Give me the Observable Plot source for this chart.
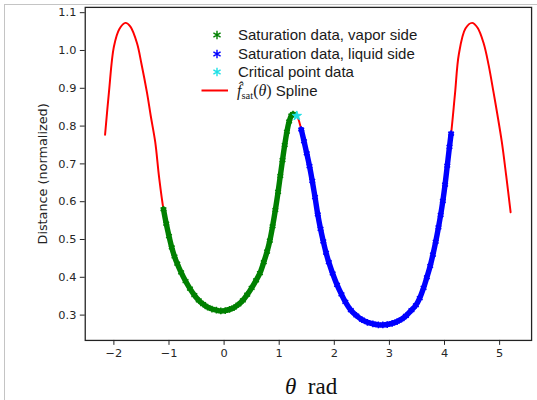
<!DOCTYPE html>
<html><head><meta charset="utf-8">
<script src="https://cdn.jsdelivr.net/npm/d3@7"></script>
<script src="https://cdn.jsdelivr.net/npm/@observablehq/plot@0.6"></script>
<style>
html,body{margin:0;padding:0;background:#fff;}
body{width:537px;height:400px;overflow:hidden;position:relative;}
#border{position:absolute;left:4px;top:4px;width:600px;height:500px;border-left:1px solid #c4c4c4;border-top:1px solid #c4c4c4;}
#chart{position:absolute;left:0;top:0;}
#legend{position:absolute;left:0;top:0;font-family:'Liberation Sans',Arial,sans-serif;font-size:15px;color:#1a1a1a;}
#legend .row{position:absolute;white-space:nowrap;line-height:16px;}
#legend svg{position:absolute;overflow:visible;}
.math{font-family:'Liberation Serif','DejaVu Serif',serif;}
#xlabel{position:absolute;font-family:'Liberation Serif','DejaVu Serif',serif;font-size:23px;color:#111;white-space:nowrap;line-height:24px;}
</style></head><body>
<div id="border"></div>
<div id="chart"></div>
<div id="legend"></div>
<div id="xlabel"></div>
<script>
// ---- data ----
const vaporTheta = [-1.10,-1.05,-1.00,-0.95,-0.90,-0.85,-0.78,-0.70,-0.62,-0.54,-0.46,-0.38,-0.30,-0.22,-0.14,-0.06,0.02,0.10,0.18,0.26,0.34,0.42,0.50,0.58,0.65,0.72,0.78,0.83,0.88,0.93,0.98,1.02,1.06,1.10,1.14,1.18,1.22,1.25];
const vaporDist  = [0.580,0.542,0.509,0.479,0.455,0.436,0.413,0.390,0.370,0.353,0.339,0.329,0.321,0.316,0.313,0.311,0.312,0.315,0.320,0.328,0.339,0.354,0.372,0.392,0.411,0.440,0.468,0.497,0.535,0.578,0.626,0.668,0.710,0.750,0.785,0.812,0.828,0.832];

const liquidTheta = [1.40,1.45,1.50,1.55,1.60,1.65,1.70,1.75,1.80,1.85,1.90,1.97,2.05,2.13,2.20,2.30,2.40,2.50,2.60,2.70,2.80,2.88,2.96,3.05,3.14,3.22,3.30,3.40,3.48,3.55,3.62,3.68,3.74,3.79,3.84,3.89,3.93,3.97,4.01,4.05,4.09,4.12];
const liquidDist  = [0.791,0.760,0.728,0.694,0.655,0.612,0.566,0.528,0.495,0.465,0.440,0.410,0.380,0.355,0.335,0.313,0.299,0.288,0.281,0.277,0.274,0.274,0.275,0.278,0.283,0.289,0.298,0.313,0.326,0.345,0.372,0.400,0.430,0.460,0.494,0.532,0.565,0.602,0.645,0.695,0.745,0.780];

const criticalTheta = [1.32];
const criticalDist  = [0.827];

const splineTheta = [-2.16,-2.09,-2.00,-1.90,-1.79,-1.70,-1.58,-1.50,-1.40,-1.33,-1.25,-1.18,-1.10,-1.00,-0.85,-0.70,-0.48,-0.20,-0.06,0.10,0.36,0.55,0.75,0.90,1.04,1.16,1.25,1.32,1.40,1.55,1.70,1.90,2.20,2.50,2.86,3.22,3.515,3.754,3.934,4.05,4.12,4.19,4.26,4.38,4.50,4.60,4.71,4.80,4.89,4.96,5.04,5.12,5.20];
const splineDist  = [0.777,0.889,1.010,1.057,1.073,1.063,1.019,0.965,0.889,0.826,0.758,0.665,0.580,0.509,0.436,0.390,0.340,0.316,0.311,0.315,0.341,0.385,0.455,0.552,0.690,0.795,0.832,0.827,0.791,0.694,0.566,0.440,0.335,0.288,0.274,0.289,0.333,0.437,0.567,0.695,0.780,0.885,0.990,1.058,1.073,1.060,1.019,0.962,0.889,0.830,0.758,0.668,0.572];

const xTicks = [-2,-1,0,1,2,3,4,5];
const yTicks = [0.3,0.4,0.5,0.6,0.7,0.8,0.9,1.0,1.1];
const yLabel = "Distance (normalized)";
const legendLabels = ["Saturation data, vapor side","Saturation data, liquid side","Critical point data"];

// ---- tables ----
const vapor = vaporTheta.map((t,i)=>({t, d: vaporDist[i]}));
const liquid = liquidTheta.map((t,i)=>({t, d: liquidDist[i]}));
const critical = criticalTheta.map((t,i)=>({t, d: criticalDist[i]}));
const spline = splineTheta.map((t,i)=>({t, d: splineDist[i]}));

const GREEN = "#008000", BLUE = "#0000ff", CYAN = "#1ee0e6", RED = "#ff0000";

const chart = Plot.plot({
  width: 545, height: 400,
  marginLeft: 86, marginRight: 6, marginTop: 7, marginBottom: 55,
  style: {fontFamily: "'DejaVu Sans', sans-serif", fontSize: "11.5px", color: "#262626", background: "transparent"},
  x: {domain: [-2.52, 5.58]},
  y: {domain: [0.233, 1.114]},
  marks: [
    Plot.line(spline, {x: "t", y: "d", stroke: RED, strokeWidth: 2, curve: "catmull-rom"}),
    Plot.line(vapor, {x: "t", y: "d", stroke: GREEN, strokeWidth: 5.5, curve: "catmull-rom"}),
    Plot.dot(vapor, {x: "t", y: "d", symbol: "asterisk", r: 3.2, stroke: GREEN, strokeWidth: 1.5}),
    Plot.line(liquid, {x: "t", y: "d", stroke: BLUE, strokeWidth: 5.5, curve: "catmull-rom"}),
    Plot.dot(liquid, {x: "t", y: "d", symbol: "asterisk", r: 3.2, stroke: BLUE, strokeWidth: 1.5}),
    Plot.dot(critical, {x: "t", y: "d", symbol: "star", r: 3, fill: CYAN, stroke: CYAN, strokeWidth: 1}),
    Plot.axisX({ticks: xTicks, tickFormat: d3.format("d"), tickSize: 5, tickPadding: 4, label: null, stroke: "#222"}),
    Plot.axisY({ticks: yTicks, tickFormat: d3.format(".1f"), tickSize: 5, tickPadding: 4, label: null, stroke: "#222"}),
    Plot.frame({stroke: "#222", strokeWidth: 1.3}),
    Plot.text([yLabel], {frameAnchor: "left", textAnchor: "middle", dx: -43, rotate: -90, fontSize: 13, fill: "#222"})
  ]
});
document.getElementById("chart").append(chart);

// ---- legend ----
const leg = document.getElementById("legend");
const markerColors = [GREEN, BLUE, CYAN];
const rowY = [35, 53.5, 72, 90.5];
const asterisk = d3.symbol(d3.symbolAsterisk, 48)();
legendLabels.forEach((lab, i) => {
  const s = d3.create("svg").attr("width", 10).attr("height", 10)
    .style("left", "217px").style("top", rowY[i] + "px");
  s.append("path").attr("d", asterisk).attr("fill", "none").attr("stroke", markerColors[i]).attr("stroke-width", 1.4);
  leg.append(s.node());
  const r = document.createElement("div");
  r.className = "row";
  r.style.left = "238px";
  r.style.top = (rowY[i] - 8) + "px";
  r.textContent = lab;
  leg.append(r);
});
{
  const s = d3.create("svg").attr("width", 30).attr("height", 4).style("left", "0px").style("top", "0px");
  s.append("line").attr("x1", 201.5).attr("x2", 228).attr("y1", rowY[3]).attr("y2", rowY[3]).attr("stroke", RED).attr("stroke-width", 2);
  leg.append(s.node());
  const r = document.createElement("div");
  r.className = "row";
  r.style.left = "237px";
  r.style.top = (rowY[3] - 8) + "px";
  r.innerHTML = '<span class="math" style="font-size:16px"><i>f&#770;</i><sub style="font-size:10.5px;vertical-align:-3px;line-height:10px">sat</sub>(<i>θ</i>)</span> Spline';
  leg.append(r);
}
// ---- x label ----
const xl = document.getElementById("xlabel");
xl.innerHTML = '<i>θ</i>&nbsp;&nbsp;rad';
xl.style.top = "375px";
xl.style.left = (312 - 27) + "px";
</script>
</body></html>
